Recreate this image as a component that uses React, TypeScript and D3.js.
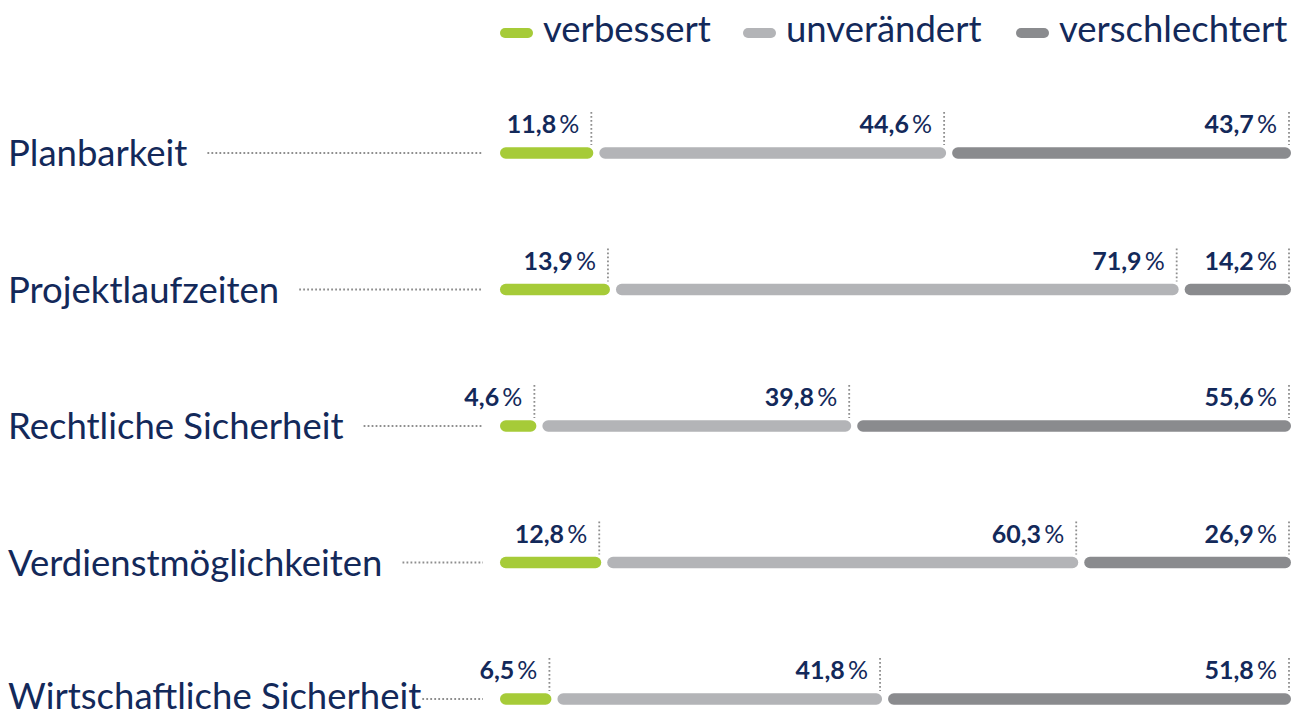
import React, { useEffect, useRef } from "react";
import * as d3 from "d3";

const categories = [
  "Planbarkeit",
  "Projektlaufzeiten",
  "Rechtliche Sicherheit",
  "Verdienstmöglichkeiten",
  "Wirtschaftliche Sicherheit",
];
const seriesNames = ["verbessert", "unverändert", "verschlechtert"];
const verbessert = [11.8, 13.9, 4.6, 12.8, 6.5];
const unveraendert = [44.6, 71.9, 39.8, 60.3, 41.8];
const verschlechtert = [43.7, 14.2, 55.6, 26.9, 51.8];
const colors = ["#a6cb38", "#b3b4b7", "#8a8b8e"];

const W = 1306;
const H = 715;
const NAVY = "#13295a";
const FONT = "Lato, 'Open Sans', sans-serif";

export default function App() {
  const ref = useRef<SVGSVGElement | null>(null);

  useEffect(() => {
    const svg = d3.select(ref.current);
    svg.selectAll("*").remove();

    const x = d3.scaleLinear().domain([0, 100]).range([500, 1291]);
    const y = d3.scalePoint<string>().domain(categories).range([153, 699]);
    const barH = 11.5;
    const gap = 6;

    // legend
    const legendX = [500, 743, 1016];
    seriesNames.forEach((s, i) => {
      const g = svg.append("g").attr("transform", `translate(${legendX[i]},0)`);
      g.append("rect")
        .attr("x", 0)
        .attr("y", 28)
        .attr("width", 33)
        .attr("height", 10)
        .attr("rx", 5)
        .attr("fill", colors[i]);
      g.append("text")
        .attr("x", 43)
        .attr("y", 42)
        .attr("font-family", FONT)
        .attr("font-size", 36.5)
        .attr("fill", NAVY)
        .text(s);
    });

    const rows = categories.map((c, i) => ({
      c,
      vals: [verbessert[i], unveraendert[i], verschlechtert[i]],
    }));

    rows.forEach((r, ri) => {
      const cy = y(r.c)!;
      const label = svg
        .append("text")
        .attr("x", 8)
        .attr("y", cy + (ri === rows.length - 1 ? 10 : 13))
        .attr("font-family", FONT)
        .attr("font-size", 36.5)
        .attr("fill", NAVY)
        .text(r.c);
      const tw = (label.node() as SVGTextElement).getComputedTextLength();
      const textEnd = 8 + tw;
      const x1 = textEnd > 400 ? textEnd + 1 : textEnd + 20;
      svg
        .append("line")
        .attr("x1", x1)
        .attr("x2", 483)
        .attr("y1", cy)
        .attr("y2", cy)
        .attr("stroke", "#8e8e8e")
        .attr("stroke-width", 1.8)
        .attr("stroke-dasharray", "1.8 2.2");

      let cum = 0;
      r.vals.forEach((v, j) => {
        const start = j === 0 ? x(cum) : x(cum) + gap;
        cum += v;
        const end = Math.min(x(cum), x.range()[1]);
        svg
          .append("rect")
          .attr("x", start)
          .attr("y", cy - barH / 2)
          .attr("width", Math.max(0, end - start))
          .attr("height", barH)
          .attr("rx", barH / 2)
          .attr("fill", colors[j]);
        svg
          .append("line")
          .attr("x1", end - 2)
          .attr("x2", end - 2)
          .attr("y1", cy - 41)
          .attr("y2", cy - 8)
          .attr("stroke", "#8e8e8e")
          .attr("stroke-width", 1.8)
          .attr("stroke-dasharray", "1.8 2.2");
        const t = svg
          .append("text")
          .attr("x", end - 14)
          .attr("y", cy - 20)
          .attr("text-anchor", "end")
          .attr("font-family", FONT)
          .attr("font-size", 25)
          .attr("fill", NAVY);
        t.append("tspan")
          .attr("font-weight", 700)
          .text(d3.format(".1f")(v).replace(".", ",") + "\u2009");
        t.append("tspan").attr("font-weight", 400).text("%");
      });
    });
  }, []);

  return (
    <svg
      ref={ref}
      width={W}
      height={H}
      style={{ display: "block", position: "absolute", left: 0, top: 0 }}
    />
  );
}
